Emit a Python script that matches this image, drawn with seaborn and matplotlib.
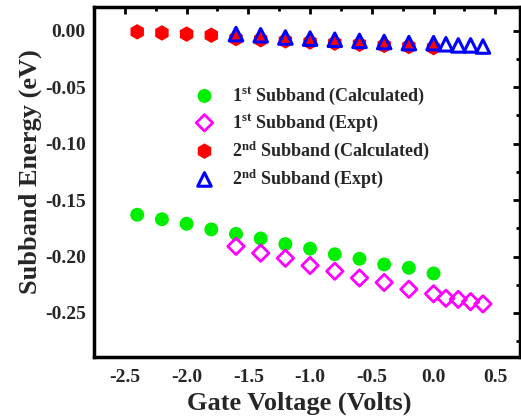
import numpy as np
import pandas as pd
import matplotlib
matplotlib.use("Agg")
import matplotlib.pyplot as plt
from matplotlib.ticker import MultipleLocator, FormatStrFormatter
import seaborn as sns

# Data
x_calc = [-2.4, -2.2, -2.0, -1.8, -1.6, -1.4, -1.2, -1.0, -0.8, -0.6, -0.4, -0.2, 0.0]
first_calc = [-0.163, -0.167, -0.171, -0.176, -0.180, -0.184, -0.189, -0.193, -0.198, -0.202, -0.207, -0.210, -0.215]
second_calc = [-0.001, -0.002, -0.003, -0.004, -0.007, -0.008, -0.009, -0.010, -0.011, -0.012, -0.013, -0.014, -0.015]

x_expt = [-1.6, -1.4, -1.2, -1.0, -0.8, -0.6, -0.4, -0.2, 0.0, 0.1, 0.2, 0.3, 0.4]
first_expt = [-0.191, -0.197, -0.2015, -0.208, -0.213, -0.219, -0.223, -0.229, -0.233, -0.237, -0.238, -0.240, -0.242]
second_expt = [-0.003, -0.004, -0.006, -0.007, -0.008, -0.009, -0.010, -0.011, -0.011, -0.012, -0.013, -0.013, -0.014]

labels = [r"1$^{\mathbf{st}}$ Subband (Calculated)",
          r"1$^{\mathbf{st}}$ Subband (Expt)",
          r"2$^{\mathbf{nd}}$ Subband (Calculated)",
          r"2$^{\mathbf{nd}}$ Subband (Expt)"]

sns.set_style("white")
plt.rcParams['font.family'] = ['Liberation Serif', 'DejaVu Serif']
plt.rcParams['font.weight'] = 'bold'
plt.rcParams['mathtext.fontset'] = 'custom'
plt.rcParams['mathtext.rm'] = 'Liberation Serif:bold'
plt.rcParams['mathtext.bf'] = 'Liberation Serif:bold'
plt.rcParams['mathtext.it'] = 'Liberation Serif:bold'

fig = plt.figure(figsize=(5.21, 4.2), dpi=100)
ax = fig.add_axes([94/521, 1-357/420, 426/521, 350/420])

df1 = pd.DataFrame({"x": x_calc, "y": first_calc})
df2 = pd.DataFrame({"x": x_expt, "y": first_expt})
df3 = pd.DataFrame({"x": x_calc, "y": second_calc})
df4 = pd.DataFrame({"x": x_expt, "y": second_expt})

sns.scatterplot(data=df1, x="x", y="y", ax=ax, marker="o", s=100, color="#00ee00",
                edgecolor="none", label=labels[0], zorder=3)
sns.scatterplot(data=df2, x="x", y="y", ax=ax, marker="D", s=70, facecolor="none",
                edgecolor="#ff00ff", linewidth=2, label=labels[1], zorder=3)
sns.scatterplot(data=df3, x="x", y="y", ax=ax, marker="h", s=125, color="#ff0000",
                edgecolor="none", label=labels[2], zorder=3)
sns.scatterplot(data=df4, x="x", y="y", ax=ax, marker="^", s=95, facecolor="none",
                edgecolor="#0000ff", linewidth=2.2, label=labels[3], zorder=4)

ax.set_xlim(-2.75, 0.70)
ax.set_ylim(-0.289, 0.021)
ax.xaxis.set_major_locator(MultipleLocator(0.5))
ax.xaxis.set_minor_locator(MultipleLocator(0.25))
ax.yaxis.set_major_locator(MultipleLocator(0.05))
ax.yaxis.set_minor_locator(MultipleLocator(0.025))
ax.xaxis.set_major_formatter(FormatStrFormatter('%.1f'))
ax.yaxis.set_major_formatter(FormatStrFormatter('%.2f'))

ax.tick_params(which='both', direction='in', top=True, right=True, width=2, color='black')
ax.tick_params(which='major', length=5, labelsize=14)
ax.tick_params(axis='y', which='major', pad=6)
ax.tick_params(axis='x', which='major', pad=9)
ax.tick_params(which='minor', length=3)
for lab in ax.get_xticklabels() + ax.get_yticklabels():
    lab.set_fontweight('bold')
for sp in ax.spines.values():
    sp.set_linewidth(2.5)
    sp.set_color('black')
    sp.set_visible(True)

ax.set_xlabel("Gate Voltage (Volts)", fontsize=19, fontweight='bold', labelpad=4)
ax.set_ylabel("Subband Energy (eV)", fontsize=19, fontweight='bold', labelpad=2)
ax.xaxis.label.set_x(0.481)
ax.yaxis.label.set_y(0.531)

leg = ax.legend(loc='upper left', bbox_to_anchor=(0.2, 0.796), frameon=False,
                prop={'family': 'Liberation Serif', 'weight': 'bold', 'size': 13},
                handletextpad=0.5, labelspacing=0.32, borderaxespad=0)

fig.savefig("out.png", dpi=100)
